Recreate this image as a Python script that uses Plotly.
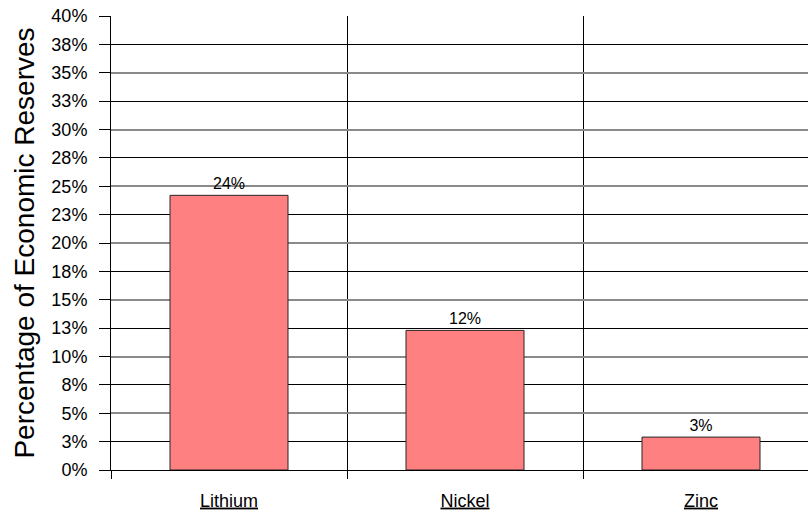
import plotly.graph_objects as go

# Share of economic reserves by metal
categories = ["Lithium", "Nickel", "Zinc"]
reserve_pct = [24.2, 12.3, 2.9]

# y ticks every 2.5%, labelled as whole percentages
even_ticks = [i * 5.0 for i in range(9)]          # 0, 5, ... 40
odd_ticks = [i * 5.0 + 2.5 for i in range(8)]     # 2.5, 7.5, ... 37.5


def pct_label(v):
    return f"{int(v + 0.5)}%"


x_pos = list(range(len(categories)))
FONT = "Liberation Sans, Arial, sans-serif"
TICK_FONT = dict(size=18, family=FONT, color="black")

fig = go.Figure()
fig.add_trace(go.Bar(
    x=x_pos,
    y=reserve_pct,
    width=0.5,
    marker=dict(color="#FF8080", line=dict(color="#262626", width=1)),
    texttemplate="%{y:.0f}%",
    textposition="outside",
    textfont=dict(family=FONT, size=16, color="black"),
    cliponaxis=False,
    hoverinfo="skip",
))
# invisible trace carrying the axis for the in-between tick labels
fig.add_trace(go.Scatter(x=[0], y=[0], yaxis="y2", mode="markers",
                         marker=dict(opacity=0), hoverinfo="skip", showlegend=False))

fig.update_layout(
    width=808, height=511,
    margin=dict(l=111, r=0, t=16, b=41),
    paper_bgcolor="white", plot_bgcolor="white",
    showlegend=False,
    font=dict(family=FONT, color="black"),
    xaxis=dict(
        range=[-0.5, 2.4534],
        tickvals=x_pos,
        ticktext=[f"<u>{c}</u>" for c in categories],
        ticks="",
        tickfont=dict(size=18, family=FONT, color="black"),
        ticklabelstandoff=14,
        showgrid=False,
        zeroline=False,
        showline=True, linecolor="black", linewidth=1,
        minor=dict(tickvals=[-0.5, 0.5, 1.5], ticks="outside", ticklen=8,
                   tickcolor="black", tickwidth=1,
                   showgrid=True, gridcolor="black", gridwidth=1),
    ),
    yaxis=dict(
        range=[0, 40],
        tickvals=even_ticks,
        ticktext=[pct_label(v) for v in even_ticks],
        ticks="outside", ticklen=11, tickcolor="black", tickwidth=1,
        tickfont=TICK_FONT,
        ticklabelstandoff=8,
        showgrid=True, gridcolor="#8a8a8a", gridwidth=2,
        zeroline=False,
        showline=True, linecolor="black", linewidth=1,
        minor=dict(tickvals=odd_ticks, ticks="", showgrid=True,
                   gridcolor="black", gridwidth=1),
        title=dict(text="Percentage of Economic Reserves",
                   font=dict(size=28, family=FONT, color="black"), standoff=8),
    ),
    yaxis2=dict(
        range=[0, 40], overlaying="y", side="left", anchor="x",
        tickvals=odd_ticks,
        ticktext=[pct_label(v) for v in odd_ticks],
        ticks="outside", ticklen=11, tickcolor="black", tickwidth=1,
        tickfont=TICK_FONT,
        ticklabelstandoff=8,
        showgrid=False, zeroline=False, showline=False,
    ),
)

fig.write_html("out.html")
